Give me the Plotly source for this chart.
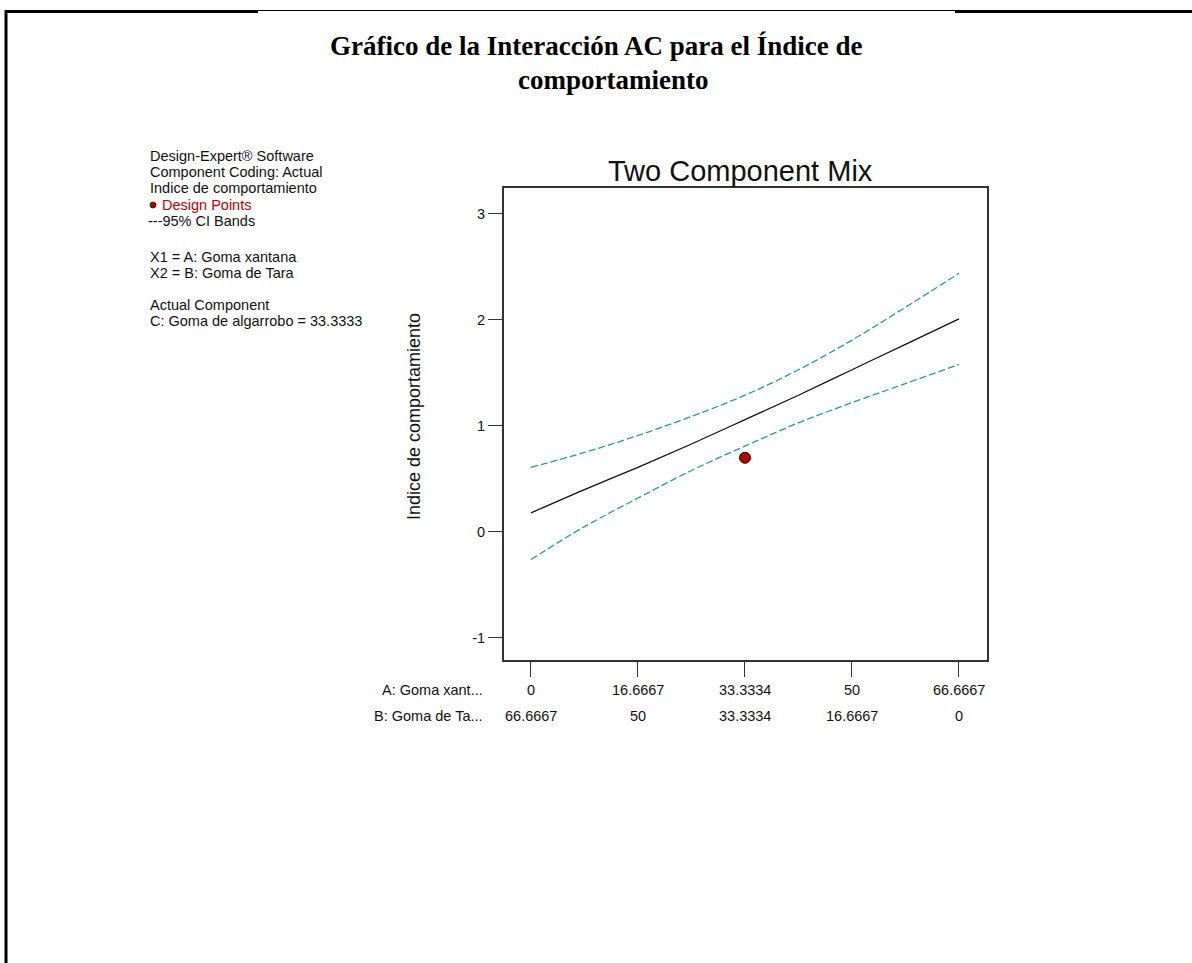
import plotly.graph_objects as go

# Mixture proportions along the A–B edge (C held at 33.3333)
goma_xantana = [0, 8.3333, 16.6667, 25, 33.3334, 41.6667, 50, 58.3333, 66.6667]
goma_tara = [66.6667, 58.3333, 50, 41.6667, 33.3334, 25, 16.6667, 8.3333, 0]

# Predicted response and 95% confidence bands
prediccion = [0.18, 0.40, 0.61, 0.83, 1.06, 1.29, 1.53, 1.77, 2.01]
banda_sup = [0.61, 0.75, 0.91, 1.09, 1.29, 1.53, 1.81, 2.12, 2.44]
banda_inf = [-0.26, 0.05, 0.32, 0.58, 0.81, 1.03, 1.22, 1.40, 1.58]

# Observed design point
punto_a = [33.3334]
punto_y = [0.70]

# Tick labels for the two component scales
ticks_a = [0, 16.6667, 33.3334, 50, 66.6667]
labels_a = ["0", "16.6667", "33.3334", "50", "66.6667"]
labels_b = ["66.6667", "50", "33.3334", "16.6667", "0"]
ticks_y = [-1, 0, 1, 2, 3]
labels_y = ["-1", "0", "1", "2", "3"]

W, H = 1192, 963


def px(x):
    return x / W


def py(y):
    return 1 - y / H


teal = "#2a9a9c"
axis_col = "#333333"
fs = 14.5

fig = go.Figure()
fig.add_trace(go.Scatter(x=goma_xantana, y=banda_sup, mode="lines",
                         line=dict(color=teal, width=1.3, dash="7px,3px",
                                   shape="spline", smoothing=1.0)))
fig.add_trace(go.Scatter(x=goma_xantana, y=banda_inf, mode="lines",
                         line=dict(color=teal, width=1.3, dash="7px,3px",
                                   shape="spline", smoothing=1.0)))
fig.add_trace(go.Scatter(x=goma_xantana, y=prediccion, mode="lines",
                         line=dict(color="#111111", width=1.3,
                                   shape="spline", smoothing=1.0)))
fig.add_trace(go.Scatter(x=punto_a, y=punto_y, mode="markers",
                         marker=dict(color="#b00000", size=11,
                                     line=dict(color="#3a0000", width=1))))

fig.update_layout(
    width=W, height=H,
    margin=dict(l=0, r=0, t=0, b=0),
    paper_bgcolor="white", plot_bgcolor="white",
    showlegend=False,
    font=dict(family="Liberation Sans, Arial, sans-serif", size=fs, color="#111"),
)
fig.update_xaxes(
    domain=[px(504), px(987)], range=[-4.2, 71.03],
    showgrid=False, zeroline=False, showline=True, mirror=True,
    linecolor=axis_col, linewidth=1.5,
    tickvals=ticks_a, ticks="outside", ticklen=15, tickcolor=axis_col,
    tickwidth=1.3, showticklabels=False,
)
fig.update_yaxes(
    domain=[py(660), py(188)], range=[-1.208, 3.245],
    showgrid=False, zeroline=False, showline=True, mirror=True,
    linecolor=axis_col, linewidth=1.8,
    tickvals=ticks_y, ticktext=labels_y, ticks="outside", ticklen=14,
    tickcolor=axis_col, tickwidth=1.3, tickfont=dict(size=fs),
)

ann = []
# Page title
title_font = dict(family="Liberation Serif, Times New Roman, serif",
                  size=27, color="#000")
ann.append(dict(text="<b>Gráfico de la Interacción AC para el Índice de</b>",
                x=px(596), y=py(46), xref="paper", yref="paper",
                showarrow=False, xanchor="center", yanchor="middle",
                font=title_font))
ann.append(dict(text="<b>comportamiento</b>",
                x=px(613), y=py(80), xref="paper", yref="paper",
                showarrow=False, xanchor="center", yanchor="middle",
                font=title_font))
# Plot title
ann.append(dict(text="Two Component Mix", x=px(740), y=py(171),
                xref="paper", yref="paper", showarrow=False,
                xanchor="center", yanchor="middle",
                font=dict(size=29, color="#111")))
# Y-axis title
ann.append(dict(text="Indice de comportamiento", x=px(414), y=py(417),
                xref="paper", yref="paper", showarrow=False, textangle=-90,
                xanchor="center", yanchor="middle",
                font=dict(size=18, color="#111")))

# Two rows of component tick labels
for xv, la, lb in zip(ticks_a, labels_a, labels_b):
    ann.append(dict(text=la, x=xv, y=py(690), xref="x", yref="paper",
                    showarrow=False, xanchor="center", yanchor="middle",
                    font=dict(size=fs)))
    ann.append(dict(text=lb, x=xv, y=py(716), xref="x", yref="paper",
                    showarrow=False, xanchor="center", yanchor="middle",
                    font=dict(size=fs)))
ann.append(dict(text="A: Goma xant...", x=px(485), y=py(690), xref="paper",
                yref="paper", showarrow=False, xanchor="right",
                yanchor="middle", font=dict(size=fs)))
ann.append(dict(text="B: Goma de Ta...", x=px(485), y=py(716), xref="paper",
                yref="paper", showarrow=False, xanchor="right",
                yanchor="middle", font=dict(size=fs)))

# Side information block
info = [
    ("Design-Expert® Software", 156, 148, "#111"),
    ("Component Coding: Actual", 172, 148, "#111"),
    ("Indice de comportamiento", 188, 148, "#111"),
    ("Design Points", 205, 160, "#c00000"),
    ("---95% CI Bands", 221, 146, "#111"),
    ("X1 = A: Goma xantana", 257, 148, "#111"),
    ("X2 = B: Goma de Tara", 273, 148, "#111"),
    ("Actual Component", 305, 148, "#111"),
    ("C: Goma de algarrobo = 33.3333", 321, 148, "#111"),
]
for txt, yy, xx, col in info:
    ann.append(dict(text=txt, x=px(xx), y=py(yy), xref="paper", yref="paper",
                    showarrow=False, xanchor="left", yanchor="middle",
                    font=dict(size=fs, color=col)))
fig.update_layout(annotations=ann)

shapes = [
    # legend dot
    dict(type="circle", xref="paper", yref="paper",
         x0=px(150), x1=px(156), y0=py(202), y1=py(208),
         fillcolor="#b00000", line=dict(color="#400000", width=0.8)),
    # page frame
    dict(type="line", xref="paper", yref="paper", x0=px(6), x1=px(6),
         y0=py(10), y1=py(963), line=dict(color="#000", width=3)),
    dict(type="line", xref="paper", yref="paper", x0=px(5), x1=px(258),
         y0=py(11.5), y1=py(11.5), line=dict(color="#000", width=3)),
    dict(type="line", xref="paper", yref="paper", x0=px(258), x1=px(955),
         y0=py(10.5), y1=py(10.5), line=dict(color="#000", width=1)),
    dict(type="line", xref="paper", yref="paper", x0=px(955), x1=px(1192),
         y0=py(11.5), y1=py(11.5), line=dict(color="#000", width=3)),
]
fig.update_layout(shapes=shapes)

fig.write_html("out.html")
